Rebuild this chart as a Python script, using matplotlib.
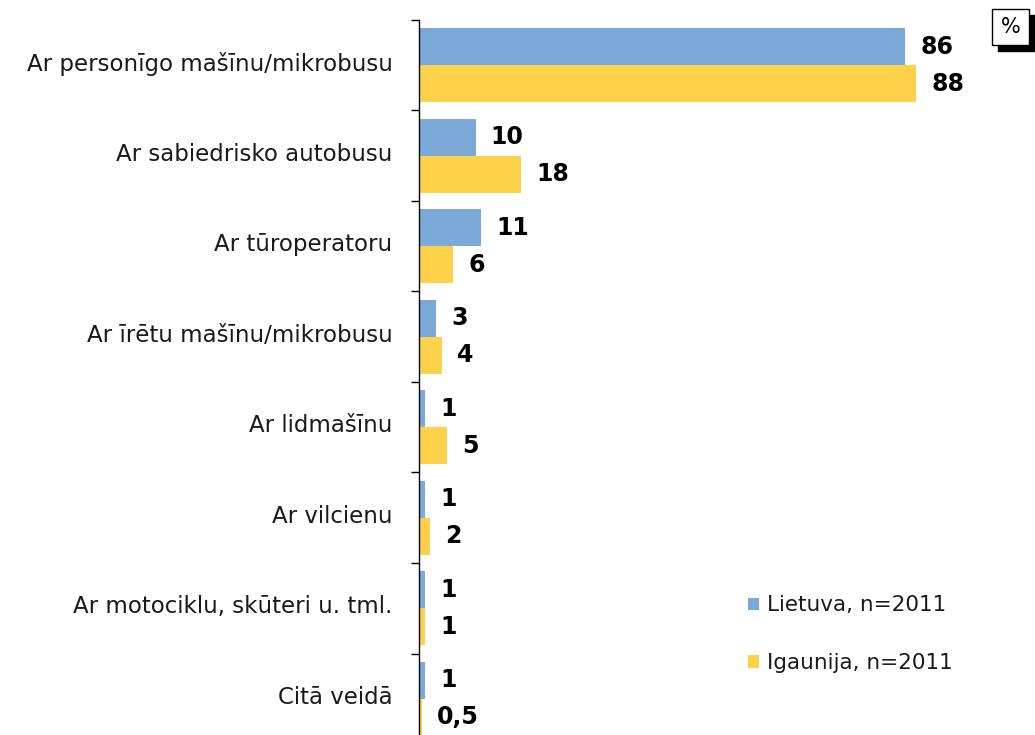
import matplotlib
matplotlib.use("Agg")
import matplotlib.pyplot as plt
from matplotlib.patches import Rectangle
from matplotlib.transforms import ScaledTranslation
import numpy as np

categories = [
    "Ar personīgo mašīnu/mikrobusu",
    "Ar sabiedrisko autobusu",
    "Ar tūroperatoru",
    "Ar īrētu mašīnu/mikrobusu",
    "Ar lidmašīnu",
    "Ar vilcienu",
    "Ar motociklu, skūteri u. tml.",
    "Citā veidā",
]
lietuva = [86, 10, 11, 3, 1, 1, 1, 1]
igaunija = [88, 18, 6, 4, 5, 2, 1, 0.5]
lietuva_labels = ["86", "10", "11", "3", "1", "1", "1", "1"]
igaunija_labels = ["88", "18", "6", "4", "5", "2", "1", "0,5"]
series_names = ["Lietuva, n=2011", "Igaunija, n=2011"]

BLUE = "#7BAAD9"
YELLOW = "#FDD14A"

plt.rcParams["font.family"] = ["DejaVu Sans"]

fig = plt.figure(figsize=(10.35, 7.35), dpi=100)
W, H = 1035, 735
ax_left, ax_right, ax_top, ax_bot = 419, 984, 20, 744
ax = fig.add_axes([ax_left / W, 1 - ax_bot / H, (ax_right - ax_left) / W, (ax_bot - ax_top) / H])

n = len(categories)
y = np.arange(n)
h = 0.41
b1 = ax.barh(y - 0.205, lietuva, height=h, color=BLUE, label=series_names[0])
b2 = ax.barh(y + 0.205, igaunija, height=h, color=YELLOW, label=series_names[1])

for bars, labels in ((b1, lietuva_labels), (b2, igaunija_labels)):
    for rect, lab in zip(bars, labels):
        ax.annotate(lab, (rect.get_width(), rect.get_y() + rect.get_height() / 2),
                    xytext=(11, 0), textcoords="offset points",
                    ha="left", va="center", fontsize=17, fontweight="bold", color="black")

ax.set_xlim(0, 100)
ax.set_ylim(n - 0.5, -0.5)
for s in ("top", "right", "bottom"):
    ax.spines[s].set_visible(False)
ax.spines["left"].set_color("black")
ax.spines["left"].set_linewidth(1.0)
ax.set_xticks([])
ax.set_yticks(y)
ax.set_yticklabels(categories, fontsize=16.5, color="#1a1a1a")
ax.tick_params(axis="y", which="major", length=0, pad=19)
shift = ScaledTranslation(0, 4 / 100, fig.dpi_scale_trans)
for lbl in ax.get_yticklabels():
    lbl.set_transform(lbl.get_transform() + shift)
ax.set_yticks(np.arange(n + 1) - 0.5, minor=True)
ax.tick_params(axis="y", which="minor", length=6, width=1.0, color="black", direction="out")

leg = fig.legend(handles=[b1, b2], labels=series_names, loc="upper left",
                 bbox_to_anchor=(729 / W, 1 - 576 / H), frameon=False,
                 fontsize=15.5, handlelength=0.5, handleheight=0.5,
                 handletextpad=0.35, labelspacing=1.75)
for t in leg.get_texts():
    t.set_color("#1a1a1a")

# % box with shadow
bx, by, bw, bh = 992, 9, 37, 36
fig.patches.append(Rectangle(((bx + 6) / W, 1 - (by + bh + 6) / H), bw / W, bh / H,
                             transform=fig.transFigure, facecolor="black", edgecolor="black"))
fig.patches.append(Rectangle((bx / W, 1 - (by + bh) / H), bw / W, bh / H,
                             transform=fig.transFigure, facecolor="white", edgecolor="black", linewidth=1))
fig.text((bx + bw / 2) / W, 1 - (by + bh / 2) / H, "%", ha="center", va="center", fontsize=15)

fig.savefig("out.png", dpi=100)
